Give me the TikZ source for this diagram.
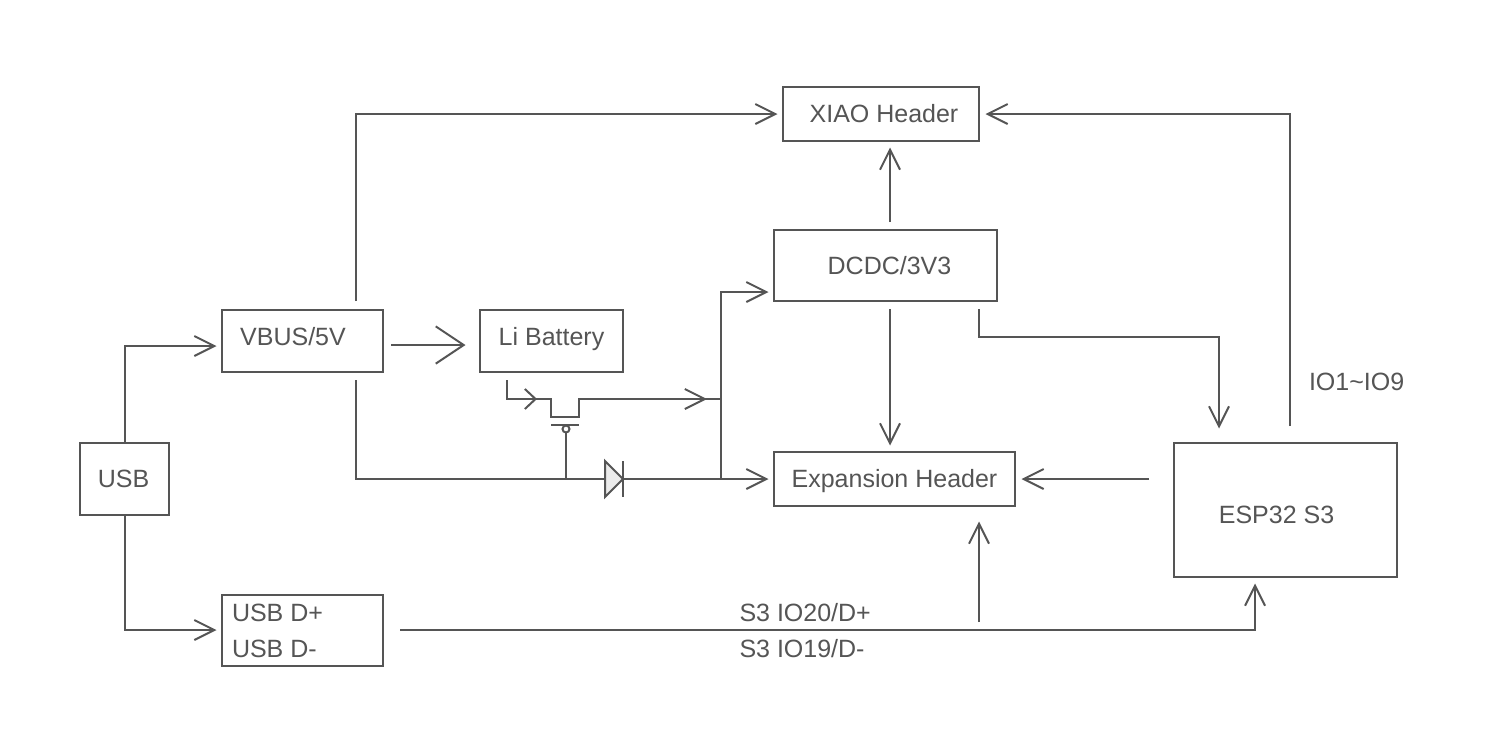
\documentclass[tikz,border=0pt]{standalone}
\usepackage{fontspec}
\setmainfont{Liberation Sans}
\usetikzlibrary{arrows.meta}
\definecolor{ink}{HTML}{555555}
\begin{document}
\begin{tikzpicture}[x=0.75pt, y=-0.75pt, line width=1.5pt, draw=ink, text=ink, font=\fontsize{18.75}{22}\selectfont,
  box/.style={rectangle, draw=ink, outer sep=0pt, inner sep=0pt},
  txt/.style={inner sep=0pt, anchor=west},
  every label/.style={inner sep=0pt, text=ink},
  wire/.style={draw=ink, line join=miter},
  tipm/.style={draw=ink, -{Straight Barb[length=15pt, width=15pt]}},
  tips/.style={draw=ink, -{Straight Barb[length=8pt, width=15pt]}},
  tipb/.style={draw=ink, -{Straight Barb[length=21pt, width=28pt]}}, ]
  \useasboundingbox (0,0) rectangle (1504,740);
  \fill[white] (0,0) rectangle (1504,740);

  \node[box, minimum width=147pt, minimum height=40.5pt, label={[shift={(3,0)}]center:XIAO Header}] (xiao) at (881,114) {};
  \node[box, minimum width=167.25pt, minimum height=53.25pt, label={[shift={(4,0)}]center:DCDC/3V3}] (dcdc) at (885.5,265.5) {};
  \node[box, minimum width=120.75pt, minimum height=46.5pt, label={[shift={(-9.5,-4)}]center:VBUS/5V}] (vbus) at (302.5,341) {};
  \node[box, minimum width=107.25pt, minimum height=46.5pt, label={[shift={(0,-2)}]center:Li Battery}] (batt) at (551.5,341) {};
  \node[box, minimum width=66.75pt, minimum height=54pt, label={[shift={(-1,0)}]center:USB}] (usb) at (124.5,479) {};
  \node[box, minimum width=120.75pt, minimum height=53.25pt] (usbd) at (302.5,630.5) {};
  \node[box, minimum width=180.75pt, minimum height=40.5pt, label={[shift={(0,2)}]center:Expansion Header}] (exp) at (894.5,479) {};
  \node[box, minimum width=167.25pt, minimum height=100.5pt, label={[shift={(-9,5)}]center:ESP32 S3}] (esp) at (1285.5,510) {};

  \node[txt] (dp) at (231,613) {USB D+};
  \node[txt] (dm) at (231,649) {USB D-};
  \node[txt] (sdp) at (738.5,613) {S3 IO20/D+};
  \node[txt] (sdm) at (738.5,649) {S3 IO19/D-};
  \node[txt] (io) at (1308,382) {IO1\textasciitilde IO9};

  \coordinate (vbusin) at (216.5,346);
  \coordinate (usbdin) at (216.5,630);
  \coordinate (vbusout) at (391,345);
  \coordinate (battin) at (465.5,345);
  \coordinate (vbustop) at (356,301);
  \coordinate (vbusbot) at (356,380);
  \coordinate (xiaoin) at (777.5,114);
  \coordinate (xiaoinr) at (985.5,114);
  \coordinate (battout) at (507,380);
  \coordinate (dmid) at (566,479);
  \coordinate (dl) at (605,479);
  \coordinate (dr) at (623,479);
  \coordinate (jn) at (721,479);
  \coordinate (jb) at (721,399);
  \coordinate (expin) at (768.5,479);
  \coordinate (dcdcin) at (768.5,292);

  \draw[wire, tipm] (usb.north) |- (vbusin);
  \draw[wire, tipm] (usb.south) |- (usbdin);
  \draw[wire, tipb] (vbusout) -- (battin);
  \draw[wire, tipm] (vbustop) |- (xiaoin);
  \draw[wire] (vbusbot) |- (dl);
  \draw[wire, tipm] (dr) -- (expin);
  \draw[wire, tipm] (jn) -- (721,292) -- (dcdcin);

  \draw[wire, tips] (battout) |- (537,399);
  \draw[wire] (530,399) -- (551,399) -- (551,417) -- (579,417) -- (579,399) -- (jb);
  \draw[wire, tipm] (579,399) -- (707,399);
  \draw[wire] (551,425) -- (579,425);
  \draw[wire] (566,429) circle (3.5);
  \draw[wire] (566,433) -- (dmid);
  \draw[wire, fill=ink!12] (605,461) -- (605,497) -- (623,479) -- cycle;
  \draw[wire] (623,461) -- (623,497);

  \draw[wire, tipm] (890,222) -- (890,147.5);
  \draw[wire, tipm] (890,309) -- (890,445.5);
  \draw[wire, tipm] (979,309) -- (979,337) -- (1219,337) -- (1219,428.5);
  \draw[wire, tipm] (1149,479) -- (1021.5,479);
  \draw[wire, tipm] (1290,426) |- (xiaoinr);
  \draw[wire, tipm] (400,630) -- (1255,630) -- (1255,583.5);
  \draw[wire, tipm] (979,622) -- (979,521.5);
\end{tikzpicture}
\end{document}
